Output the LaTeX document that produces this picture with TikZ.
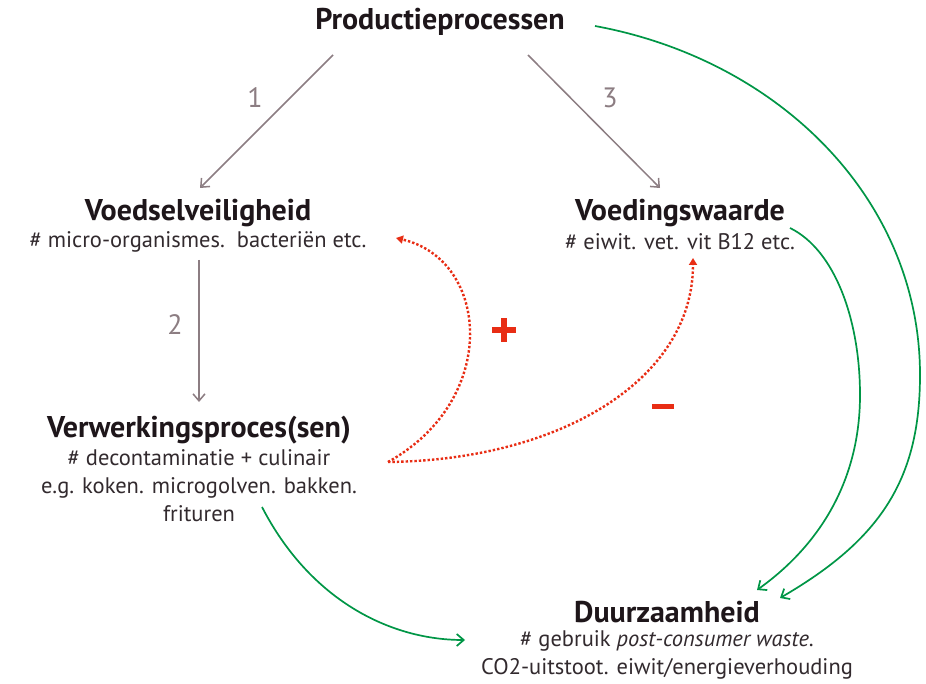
\documentclass[tikz,border=0pt]{standalone}
\usepackage{fontspec}
\setmainfont{PT Sans}
\usetikzlibrary{arrows.meta}
\definecolor{ttl}{RGB}{30,22,26}
\definecolor{sub}{RGB}{50,42,46}
\definecolor{grayarr}{RGB}{140,125,130}
\definecolor{grn}{RGB}{0,150,70}
\definecolor{rd}{RGB}{232,45,20}
\tikzset{
  title/.style={text=ttl,font=\fontsize{30}{34}\selectfont\bfseries,inner sep=0pt},
  subt/.style={text=sub,font=\fontsize{22.5}{28}\selectfont,inner sep=0pt,align=center},
  grayline/.style={draw=grayarr,line width=1.5pt,-{Straight Barb[length=7pt,width=12pt]}},
  numlbl/.style={text=grayarr,font=\fontsize{28}{30}\selectfont,inner sep=0pt},
  greenline/.style={draw=grn,line width=1.7pt,-{Straight Barb[length=7pt,width=12pt]}},
  redline/.style={draw=rd,line width=2.4pt,dotted,-{Triangle[length=7pt,width=8pt]}},
  sign/.style={fill=rd,inner sep=0pt}
}
\begin{document}
\begin{tikzpicture}[x=1pt,y=-1pt]
\useasboundingbox[fill=white] (0,0) rectangle (926,684);
% nodes
\node[title] (prod) at (440,22) {Productieprocessen};
\node[title] (veil) at (198,213) {Voedselveiligheid};
\node[subt] (veilsub) at (198,242) {\# micro-organismes.\ \ bacteriën etc.};
\node[title] (verw) at (199,430) {Verwerkingsproces(sen)};
\node[subt,anchor=north] (verwsub) at (199,449) {\# decontaminatie + culinair\\e.g. koken. microgolven. bakken.\\frituren};
\node[title] (voed) at (680,213) {Voedingswaarde};
\node[subt] (voedsub) at (680,242) {\# eiwit. vet. vit B12 etc.};
\node[title] (duur) at (667,612) {Duurzaamheid};
\node[subt,anchor=north] (duursub) at (667,630) {\# gebruik \textit{post-consumer waste}.\\CO2-uitstoot. eiwit/energieverhouding};
% coordinates
\coordinate (p1s) at (333,55);
\coordinate (p1e) at (200,188);
\coordinate (p3s) at (528,55);
\coordinate (p3e) at (660,188);
\coordinate (p2s) at (199,260);
\coordinate (p2e) at (199,402);
\coordinate (rs) at (388,462);
\coordinate (rplus) at (396,238);
\coordinate (rmin) at (693,258);
\coordinate (gps) at (595,26);
\coordinate (gpm) at (920,375);
\coordinate (gpe) at (780,598);
\coordinate (gvs) at (790,228);
\coordinate (gvm) at (860,395);
\coordinate (gve) at (757,590);
\coordinate (gls) at (262,507);
\coordinate (gle) at (465,640);
% gray arrows
\draw[grayline] (p1s) -- (p1e);
\draw[grayline] (p3s) -- (p3e);
\draw[grayline] (p2s) -- (p2e);
\node[numlbl] (n1) at (255,98) {1};
\node[numlbl] (n3) at (610,98) {3};
\node[numlbl] (n2) at (175,325) {2};
% red dotted
\draw[redline] (rs) .. controls (500,400) and (490,260) .. (rplus);
\draw[redline] (rs) .. controls (560,460) and (693,380) .. (rmin);
\node[sign,minimum width=24pt,minimum height=6pt] (plush) at (504,330) {};
\node[sign,minimum width=6pt,minimum height=24pt] (plusv) at (504,330) {};
\node[sign,minimum width=22pt,minimum height=5pt] (minus) at (663,406) {};
% green
\draw[greenline] (gps) .. controls (780,60) and (920,200) .. (gpm)
   .. controls (920,480) and (880,540) .. (gpe);
\draw[greenline] (gvs) .. controls (835,250) and (860,320) .. (gvm)
   .. controls (860,480) and (820,545) .. (gve);
\draw[greenline] (gls) .. controls (310,600) and (390,640) .. (gle);
\end{tikzpicture}
\end{document}
